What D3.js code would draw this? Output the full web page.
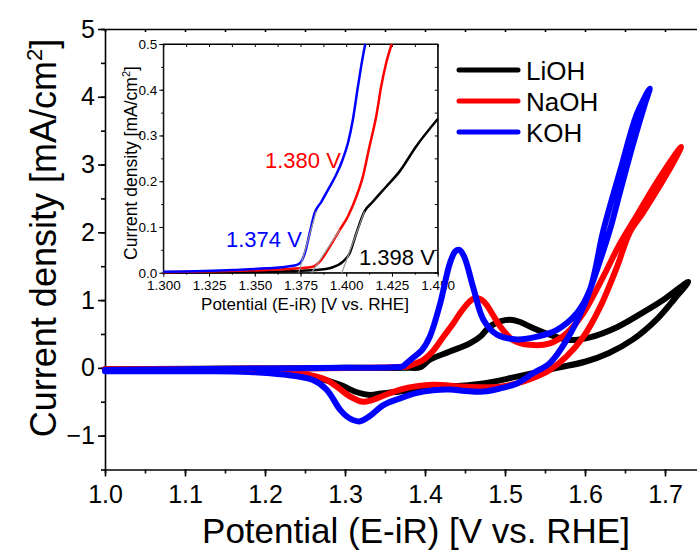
<!DOCTYPE html>
<html>
<head>
<meta charset="utf-8">
<script src="https://cdn.jsdelivr.net/npm/d3@7"></script>
<style>
  body { margin: 0; background: #fff; }
  text { font-family: "Liberation Sans", Arial, sans-serif; fill: #000; }
</style>
</head>
<body>
<div id="chart"></div>
<script>
// CV loops [E (V vs RHE), j (mA/cm2)], forward scan then reverse scan
var lioh = [
  [1.00,-0.02],[1.20,-0.01],[1.30,0.00],[1.38,0.00],[1.394,0.01],[1.406,0.12],[1.431,0.24],
  [1.456,0.36],[1.47,0.47],[1.481,0.61],[1.495,0.69],[1.506,0.71],[1.518,0.68],[1.531,0.61],
  [1.556,0.49],[1.581,0.41],[1.606,0.45],[1.64,0.60],[1.67,0.80],[1.70,1.02],[1.729,1.27],
  [1.712,1.02],[1.69,0.72],[1.66,0.42],[1.63,0.22],[1.60,0.09],[1.565,0.00],[1.515,-0.13],
  [1.473,-0.23],[1.431,-0.28],[1.40,-0.32],[1.369,-0.35],[1.345,-0.38],[1.331,-0.40],
  [1.315,-0.36],[1.294,-0.25],[1.265,-0.15],[1.223,-0.08],[1.16,-0.04],[1.00,-0.03]
];
var naoh = [
  [1.00,-0.02],[1.20,-0.01],[1.36,0.01],[1.377,0.02],[1.385,0.05],[1.398,0.12],[1.41,0.25],
  [1.423,0.46],[1.435,0.65],[1.444,0.81],[1.455,0.97],[1.4625,1.03],[1.47,1.01],[1.477,0.93],
  [1.485,0.78],[1.494,0.61],[1.51,0.41],[1.531,0.34],[1.556,0.36],[1.577,0.51],[1.598,0.81],
  [1.623,1.35],[1.644,1.84],[1.665,2.25],[1.685,2.65],[1.703,2.98],[1.72,3.26],
  [1.71,3.02],[1.69,2.62],[1.672,2.28],[1.656,2.0],[1.64,1.49],[1.619,0.90],[1.598,0.46],
  [1.577,0.17],[1.556,-0.03],[1.535,-0.15],[1.515,-0.23],[1.494,-0.28],[1.452,-0.28],
  [1.41,-0.25],[1.39,-0.27],[1.369,-0.32],[1.35,-0.40],[1.333,-0.48],[1.322,-0.50],
  [1.306,-0.42],[1.29,-0.28],[1.277,-0.18],[1.244,-0.08],[1.202,-0.04],[1.12,-0.03],[1.00,-0.03]
];
var koh = [
  [1.00,-0.03],[1.10,-0.02],[1.20,-0.01],[1.30,0.00],[1.36,0.01],[1.372,0.02],[1.378,0.08],
  [1.385,0.15],[1.396,0.26],[1.406,0.46],[1.419,0.95],[1.431,1.54],[1.438,1.72],[1.443,1.74],
  [1.449,1.64],[1.46,1.20],[1.473,0.71],[1.49,0.49],[1.515,0.42],[1.54,0.46],[1.565,0.56],
  [1.59,0.81],[1.606,1.15],[1.623,2.03],[1.645,2.95],[1.665,3.75],[1.681,4.12],
  [1.675,3.90],[1.66,3.30],[1.645,2.65],[1.631,2.03],[1.619,1.59],[1.598,0.90],[1.577,0.41],
  [1.556,0.07],[1.535,-0.08],[1.515,-0.23],[1.495,-0.30],[1.473,-0.35],[1.45,-0.34],
  [1.431,-0.32],[1.41,-0.33],[1.39,-0.37],[1.369,-0.45],[1.348,-0.55],[1.33,-0.72],
  [1.318,-0.79],[1.305,-0.74],[1.294,-0.62],[1.277,-0.32],[1.26,-0.18],[1.223,-0.10],
  [1.18,-0.06],[1.12,-0.05],[1.00,-0.05]
];

// inset: onset region (anodic scan)
var liohOnset = [
  [1.30,0.000],[1.356,0.002],[1.3836,0.006],[1.3927,0.012],[1.3982,0.024],[1.4018,0.042],
  [1.4055,0.086],[1.41,0.134],[1.4145,0.155],[1.4218,0.188],[1.4291,0.221],[1.4382,0.276],[1.45,0.336]
];
var naohOnset = [
  [1.30,0.001],[1.3564,0.006],[1.3745,0.0095],[1.3818,0.013],[1.3855,0.024],[1.391,0.057],
  [1.3964,0.093],[1.4009,0.123],[1.4055,0.166],[1.4091,0.21],[1.4127,0.276],[1.4164,0.342],
  [1.4191,0.407],[1.4218,0.458],[1.4249,0.5]
];
var kohOnset = [
  [1.30,0.002],[1.338,0.006],[1.3564,0.0095],[1.3709,0.015],[1.3745,0.020],[1.3773,0.042],
  [1.380,0.086],[1.3827,0.13],[1.3864,0.155],[1.391,0.188],[1.3945,0.214],[1.398,0.247],
  [1.4009,0.283],[1.4036,0.334],[1.4064,0.407],[1.4091,0.473],[1.4104,0.5]
];
var tangents = [
  [[1.374,0],[1.3836,0.134]],
  [[1.3811,0],[1.3967,0.095]],
  [[1.3976,0],[1.41,0.134]]
];
var onsetLabels = ["1.398 V", "1.380 V", "1.374 V"];

var seriesNames = ["LiOH", "NaOH", "KOH"];
var seriesColors = ["#000000", "#ff0000", "#0000ff"];

var xTicks = [1.0,1.1,1.2,1.3,1.4,1.5,1.6,1.7];
var yTicks = [-1,0,1,2,3,4,5];
var insetXTicks = [1.300,1.325,1.350,1.375,1.400,1.425,1.450];
var insetYTicks = [0.0,0.1,0.2,0.3,0.4,0.5];

var svg = d3.select("#chart").append("svg")
  .attr("width", 697)
  .attr("height", 552);

var x = d3.scaleLinear().domain([1.0, 1.75]).range([105, 705]);
var y = d3.scaleLinear().domain([-1.5, 5]).range([469.5, 29]);

// ---- main axes ----
function minorVals(a, b, step) {
  var out = [];
  for (var v = a; v <= b + 1e-9; v += step) out.push(+v.toFixed(4));
  return out;
}

svg.append("g")
  .attr("transform", "translate(0,469.5)")
  .call(d3.axisBottom(x).tickValues(minorVals(1.0, 1.75, 0.05)).tickSize(4).tickFormat(""))
  .call(g => g.select(".domain").remove());
svg.append("g")
  .attr("transform", "translate(0,469.5)")
  .call(d3.axisBottom(x).tickValues(xTicks).tickSize(7).tickSizeOuter(0).tickFormat(d3.format(".1f")))
  .call(g => g.selectAll("text").attr("font-size", 25).attr("dy", "0.95em"));

svg.append("g")
  .attr("transform", "translate(105,0)")
  .call(d3.axisLeft(y).tickValues(minorVals(-1.5, 5, 0.5)).tickSize(4).tickFormat(""))
  .call(g => g.select(".domain").remove());
svg.append("g")
  .attr("transform", "translate(105,0)")
  .call(d3.axisLeft(y).tickValues(yTicks).tickSize(7).tickSizeOuter(0).tickFormat(d3.format("d")))
  .call(g => g.selectAll("text").attr("font-size", 25).attr("x", -10));

// top frame with small inward ticks
svg.append("g")
  .attr("transform", "translate(0,29)")
  .call(d3.axisBottom(x).tickValues(minorVals(1.0, 1.75, 0.05)).tickSize(3).tickSizeOuter(0).tickFormat(""));

svg.selectAll(".domain, .tick line").attr("stroke", "#000").attr("stroke-width", 1.6);

svg.append("text")
  .attr("x", 416).attr("y", 543)
  .attr("text-anchor", "middle")
  .attr("font-size", 35)
  .text("Potential (E-iR) [V vs. RHE]");

var yTitle = svg.append("text")
  .attr("transform", "translate(56,238) rotate(-90)")
  .attr("text-anchor", "middle")
  .attr("font-size", 36);
yTitle.append("tspan").text("Current density [mA/cm");
yTitle.append("tspan").attr("font-size", 22).attr("dy", -14).text("2");
yTitle.append("tspan").attr("dy", 14).text("]");

// ---- inset ----
var ix = d3.scaleLinear().domain([1.3, 1.45]).range([163.3, 437.7]);
var iy = d3.scaleLinear().domain([0, 0.5]).range([272.7, 44]);
var inset = svg.append("g");

inset.append("rect")
  .attr("x", 163.3).attr("y", 44)
  .attr("width", 437.7 - 163.3).attr("height", 272.7 - 44)
  .attr("fill", "#fff").attr("stroke", "#000").attr("stroke-width", 1);

inset.append("g").attr("transform", "translate(0,272.7)")
  .call(d3.axisBottom(ix).tickValues(minorVals(1.3, 1.45, 0.0125)).tickSize(2).tickFormat(""))
  .call(g => g.select(".domain").remove());
inset.append("g").attr("transform", "translate(0,272.7)")
  .call(d3.axisBottom(ix).tickValues(insetXTicks).tickSize(4).tickSizeOuter(0).tickFormat(d3.format(".3f")))
  .call(g => g.selectAll("text").attr("font-size", 13.5).attr("dy", "0.8em"));
inset.append("g").attr("transform", "translate(163.3,0)")
  .call(d3.axisLeft(iy).tickValues(minorVals(0, 0.5, 0.05)).tickSize(2).tickFormat(""))
  .call(g => g.select(".domain").remove());
inset.append("g").attr("transform", "translate(163.3,0)")
  .call(d3.axisLeft(iy).tickValues(insetYTicks).tickSize(4).tickSizeOuter(0).tickFormat(d3.format(".1f")))
  .call(g => g.selectAll("text").attr("font-size", 13.5).attr("x", -6));
inset.append("g").attr("transform", "translate(0,44)")
  .call(d3.axisBottom(ix).tickValues(minorVals(1.3, 1.45, 0.0125)).tickSize(3).tickSizeOuter(0).tickFormat(""));
inset.append("g").attr("transform", "translate(437.7,0)")
  .call(d3.axisLeft(iy).tickValues(minorVals(0, 0.5, 0.05)).tickSize(3).tickSizeOuter(0).tickFormat(""));
inset.selectAll(".domain, .tick line").attr("stroke", "#000").attr("stroke-width", 1);

inset.append("text")
  .attr("x", 305).attr("y", 310)
  .attr("text-anchor", "middle")
  .attr("font-size", 17)
  .text("Potential (E-iR) [V vs. RHE]");
var iyTitle = inset.append("text")
  .attr("transform", "translate(137,163) rotate(-90)")
  .attr("text-anchor", "middle")
  .attr("font-size", 17.5);
iyTitle.append("tspan").text("Current density [mA/cm");
iyTitle.append("tspan").attr("font-size", 11).attr("dy", -7).text("2");
iyTitle.append("tspan").attr("dy", 7).text("]");

var iline = d3.line().x(d => ix(d[0])).y(d => iy(d[1])).curve(d3.curveMonotoneX);
[liohOnset, naohOnset, kohOnset].forEach(function(s, i) {
  inset.append("path")
    .attr("d", iline(s))
    .attr("fill", "none")
    .attr("stroke", seriesColors[i])
    .attr("stroke-width", 2.5);
});
tangents.forEach(function(t) {
  inset.append("path")
    .attr("d", d3.line().x(d => ix(d[0])).y(d => iy(d[1]))(t))
    .attr("fill", "none")
    .attr("stroke", "#9a9a9a")
    .attr("stroke-width", 1.2);
});

var onsetPos = [[359, 265], [265, 168], [226, 247]];
onsetLabels.forEach(function(t, i) {
  inset.append("text")
    .attr("x", onsetPos[i][0]).attr("y", onsetPos[i][1])
    .attr("font-size", 22)
    .style("fill", seriesColors[i])
    .text(t);
});

// ---- main curves ----
var line = d3.line().x(d => x(d[0])).y(d => y(d[1])).curve(d3.curveCatmullRom.alpha(0.5));
[lioh, naoh, koh].forEach(function(s, i) {
  svg.append("path")
    .attr("d", line(s))
    .attr("fill", "none")
    .attr("stroke", seriesColors[i])
    .attr("stroke-width", 6)
    .attr("stroke-linejoin", "round")
    .attr("stroke-linecap", "round");
});

// ---- legend ----
var legend = svg.append("g");
seriesNames.forEach(function(n, i) {
  var ly = 70 + i * 31;
  legend.append("line")
    .attr("x1", 459).attr("x2", 518)
    .attr("y1", ly).attr("y2", ly)
    .attr("stroke", seriesColors[i])
    .attr("stroke-width", 5)
    .attr("stroke-linecap", "round");
  legend.append("text")
    .attr("x", 526).attr("y", ly + 9.5)
    .attr("font-size", 26)
    .text(n);
});
</script>
</body>
</html>
